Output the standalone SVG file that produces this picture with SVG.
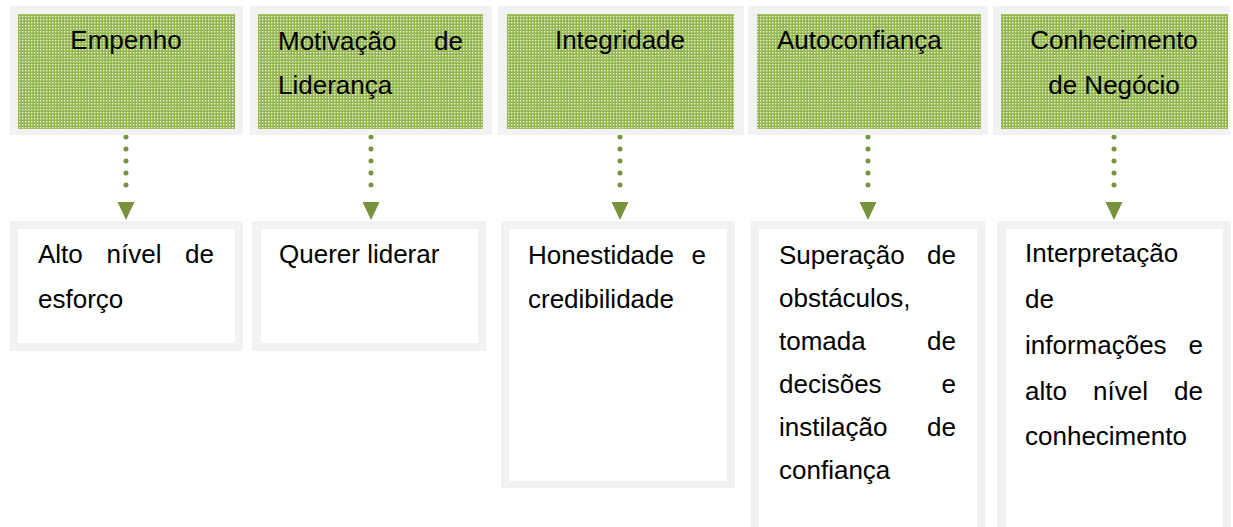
<svg xmlns="http://www.w3.org/2000/svg" width="1233" height="527" viewBox="0 0 1233 527">
<style>
.frame{fill:#f2f2f2}
.inner{fill:#ffffff}
.green{fill:url(#dots)}
.t{font-family:"Liberation Sans",Arial,sans-serif;font-size:26px;fill:#000}
.m{text-anchor:middle}
.e{text-anchor:end}
.conn{stroke:#77933c;stroke-width:5;stroke-linecap:round;stroke-dasharray:0 12;fill:none}
</style>
<defs>
<pattern id="dots" x="0" y="0" width="3" height="3" patternUnits="userSpaceOnUse">
<rect width="3" height="3" fill="#92b54e"/>
<rect x="1" y="1" width="1.4" height="1.4" fill="#eaf2da"/>
</pattern>
<marker id="arr" markerUnits="userSpaceOnUse" markerWidth="30" markerHeight="30" refX="0" refY="0" orient="auto" overflow="visible">
<path d="M5,-8.5 L23,0 L5,8.5 Z" fill="#77933c"/>
</marker>
</defs>
<rect width="1233" height="527" fill="#ffffff"/>

<g id="connectors">
<line class="conn" x1="126" y1="137" x2="126" y2="197" marker-end="url(#arr)"/>
<line class="conn" x1="371" y1="137" x2="371" y2="197" marker-end="url(#arr)"/>
<line class="conn" x1="620" y1="137" x2="620" y2="197" marker-end="url(#arr)"/>
<line class="conn" x1="868" y1="137" x2="868" y2="197" marker-end="url(#arr)"/>
<line class="conn" x1="1114" y1="137" x2="1114" y2="197" marker-end="url(#arr)"/>
</g>

<g id="top1">
<rect class="frame" x="10" y="6" width="233" height="129"/>
<rect class="green" x="18" y="14" width="217" height="115"/>
<text class="t m" x="126" y="49">Empenho</text>
</g>
<g id="top2">
<rect class="frame" x="250" y="6" width="242" height="129"/>
<rect class="green" x="258" y="14" width="225" height="115"/>
<text class="t" x="278" y="50">Motivação</text>
<text class="t e" x="463" y="50">de</text>
<text class="t" x="278" y="94">Liderança</text>
</g>
<g id="top3">
<rect class="frame" x="498" y="6" width="246" height="129"/>
<rect class="green" x="507" y="14" width="227" height="115"/>
<text class="t m" x="620" y="49">Integridade</text>
</g>
<g id="top4">
<rect class="frame" x="748" y="6" width="240" height="129"/>
<rect class="green" x="757" y="14" width="224" height="115"/>
<text class="t" x="777" y="49">Autoconfiança</text>
</g>
<g id="top5">
<rect class="frame" x="993" y="6" width="237" height="129"/>
<rect class="green" x="1001" y="14" width="227" height="115"/>
<text class="t m" x="1114" y="49">Conhecimento</text>
<text class="t m" x="1114" y="94">de Negócio</text>
</g>

<g id="bot1">
<rect class="frame" x="10" y="221" width="233" height="130"/>
<rect class="inner" x="18" y="229" width="217" height="114"/>
<text class="t" x="38" y="263">Alto</text>
<text class="t" x="106.5" y="263">nível</text>
<text class="t e" x="214" y="263">de</text>
<text class="t" x="38" y="308">esforço</text>
</g>
<g id="bot2">
<rect class="frame" x="252" y="221" width="234" height="130"/>
<rect class="inner" x="261" y="229" width="217" height="114"/>
<text class="t" x="279" y="263">Querer liderar</text>
</g>
<g id="bot3">
<rect class="frame" x="501" y="221" width="234" height="267"/>
<rect class="inner" x="509" y="229" width="218" height="252"/>
<text class="t" x="528" y="264">Honestidade</text>
<text class="t e" x="706" y="264">e</text>
<text class="t" x="528" y="308">credibilidade</text>
</g>
<g id="bot4">
<rect class="frame" x="751" y="221" width="234" height="320"/>
<rect class="inner" x="759" y="229" width="218" height="320"/>
<text class="t" x="779" y="264">Superação</text>
<text class="t e" x="956" y="264">de</text>
<text class="t" x="779" y="307">obstáculos,</text>
<text class="t" x="779" y="350">tomada</text>
<text class="t e" x="956" y="350">de</text>
<text class="t" x="779" y="393">decisões</text>
<text class="t e" x="956" y="393">e</text>
<text class="t" x="779" y="436">instilação</text>
<text class="t e" x="956" y="436">de</text>
<text class="t" x="779" y="479">confiança</text>
</g>
<g id="bot5">
<rect class="frame" x="997" y="221" width="234" height="320"/>
<rect class="inner" x="1006" y="229" width="217" height="320"/>
<text class="t" x="1025" y="262">Interpretação</text>
<text class="t" x="1025" y="308">de</text>
<text class="t" x="1025" y="354">informações</text>
<text class="t e" x="1203" y="354">e</text>
<text class="t" x="1025" y="400">alto</text>
<text class="t" x="1093" y="400">nível</text>
<text class="t e" x="1203" y="400">de</text>
<text class="t" x="1025" y="445">conhecimento</text>
</g>
</svg>
